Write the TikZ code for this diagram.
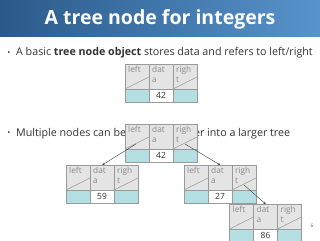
\documentclass[tikz,border=0pt]{standalone}
\usepackage{fontspec}
\setmainfont{Open Sans}
\usetikzlibrary{arrows.meta}
\definecolor{titleL}{HTML}{2B5A8A}
\definecolor{titleR}{HTML}{5893CB}
\definecolor{cellgray}{HTML}{E4E4E4}
\definecolor{cellteal}{HTML}{B3DFE3}
\definecolor{gridc}{HTML}{9A9A9A}
\definecolor{lblc}{HTML}{8A8A8A}
\definecolor{txtc}{HTML}{333333}
\tikzset{
  gridline/.style={draw=gridc, line width=0.5pt},
  celllbl/.style={anchor=north west, inner sep=0pt, text=lblc, font=\fontsize{8.3}{9.5}\selectfont, align=left},
  cellval/.style={inner sep=0pt, text=txtc, font=\fontsize{8.5}{9}\selectfont},
  link/.style={draw=black!70, line width=0.45pt, -{Stealth[length=2.5pt,width=2.5pt]}},
  bodytext/.style={anchor=base west, inner sep=0pt, text=txtc, font=\fontsize{10.7}{12}\selectfont},
  bulletmark/.style={anchor=base, inner sep=0pt, text=txtc, font=\fontsize{8}{9}\selectfont}
}
\newcommand\tnode[4]{%
  \begin{scope}[shift={(#2,#3)}]
    \fill[cellgray] (0,0) rectangle (72,25);
    \fill[cellteal] (0,25) rectangle (24,38);
    \fill[white] (24,25) rectangle (48,38);
    \fill[cellteal] (48,25) rectangle (72,38);
    \draw[gridline] (0,0) rectangle (72,38);
    \draw[gridline] (24,0) -- (24,38) (48,0) -- (48,38) (0,25) -- (72,25);
    \draw[gridline] (0,25) -- (24,13) (48,25) -- (72,13);
    \node[celllbl] at (3,2) {left};
    \node[celllbl] at (27,2) {dat\\a};
    \node[celllbl] at (51,2) {righ\\t};
    \node[cellval] at (36,31.5) {#4};
    \node[inner sep=0pt, minimum width=72pt, minimum height=38pt, anchor=north west] (#1) at (0,0) {};
    \coordinate (#1-l) at (11,20);
    \coordinate (#1-r) at (60,20);
  \end{scope}}
\begin{document}
\begin{tikzpicture}[x=1pt, y=-1pt]
\useasboundingbox (0,0) rectangle (320,240);
\fill[white] (0,0) rectangle (320,240);
\shade[left color=titleL, right color=titleR] (0,0) rectangle (320,37);
\node[text=white, font=\fontsize{19.5}{22}\selectfont\bfseries, inner sep=0pt] (title) at (160,19) {A tree node for integers};
\node[bulletmark] (b1) at (9,55.5) {•};
\node[bodytext] (t1) at (16,56) {A basic \textbf{tree node object} stores data and refers to left/right};
\node[bulletmark] (b2) at (9,135.5) {•};
\node[bodytext] (t2) at (16,136) {Multiple nodes can be linked together into a larger tree};
\tnode{single}{125}{64}{42}
\tnode{root}{125}{124}{42}
\tnode{lc}{66}{165}{59}
\tnode{rc}{184}{165}{27}
\tnode{gc}{229.5}{204}{86}
\draw[link] (root-l) -- (lc.north);
\draw[link] (root-r) -- (rc.north);
\draw[link] (rc-r) -- (gc.north);
\node[text=black!60, font=\fontsize{5}{6}\selectfont, inner sep=0pt] (pg) at (312,226) {6};
\end{tikzpicture}
\end{document}
